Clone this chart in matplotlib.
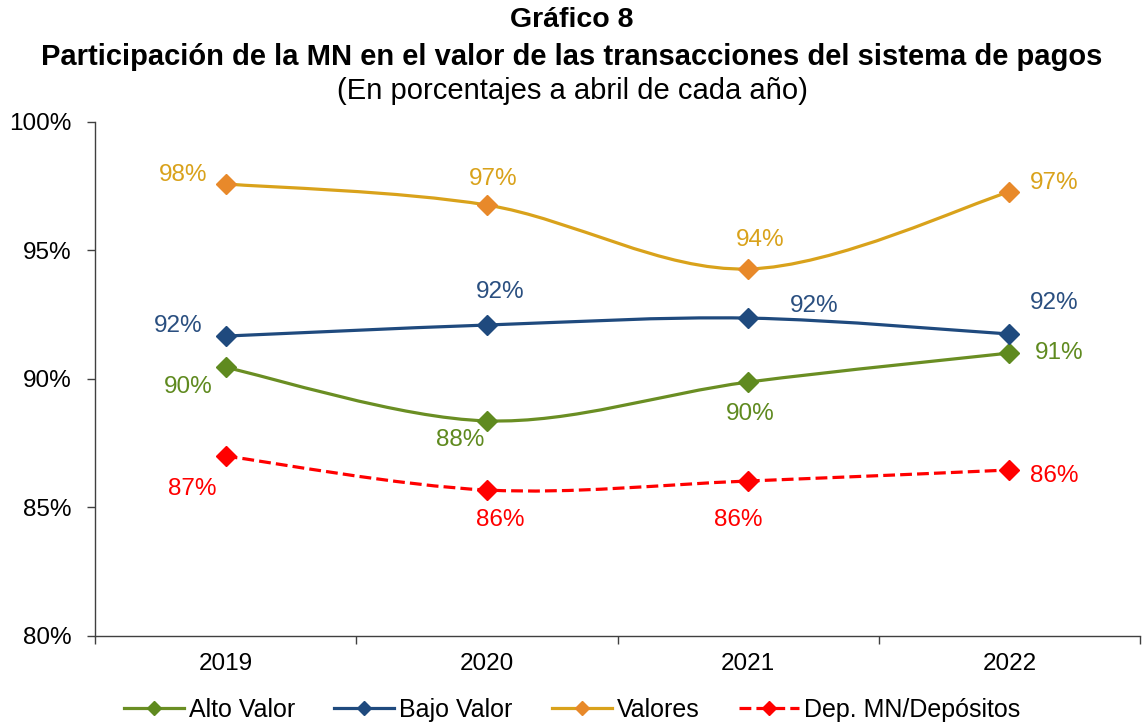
import matplotlib
matplotlib.use("Agg")
import matplotlib.pyplot as plt
from matplotlib.path import Path
from matplotlib.patches import PathPatch
from matplotlib.lines import Line2D

plt.rcParams['font.family'] = ['Liberation Sans', 'DejaVu Sans']

years = ["2019", "2020", "2021", "2022"]
alto_valor = [90.45, 88.37, 89.88, 91.01]
bajo_valor = [91.67, 92.10, 92.37, 91.75]
valores = [97.59, 96.77, 94.28, 97.28]
dep_mn = [87.00, 85.68, 86.03, 86.46]

series = [
    dict(name="Alto Valor", vals=alto_valor, line="#6A8E23", mark="#5F8A1F", txt="#5F8A1F", ls="-",
         offs=[(-37, -20), (-27, -19), (2, -32), (50, 0)]),
    dict(name="Bajo Valor", vals=bajo_valor, line="#1F4A7E", mark="#1F4A7E", txt="#2A4F80", ls="-",
         offs=[(-47, 10), (13, 33), (66, 12), (45, 31)]),
    dict(name="Valores", vals=valores, line="#D9A21B", mark="#E8892A", txt="#D9A21B", ls="-",
         offs=[(-43, 9), (6, 26), (12, 29), (45, 9)]),
    dict(name="Dep. MN/Depósitos", vals=dep_mn, line="#FF0000", mark="#FF0000", txt="#FF0000", ls="--",
         offs=[(-33, -33), (13, -30), (-10, -39), (45, -6)]),
]

fig = plt.figure(figsize=(11.44, 7.24), dpi=100)
ax = fig.add_axes([95/1144, (724-636)/724, (1140-95)/1144, (636-122)/724])

xs = list(range(len(years)))


def smooth_path(x, y):
    pts = list(zip(x, y))
    n = len(pts)
    verts = [pts[0]]
    codes = [Path.MOVETO]
    for i in range(n - 1):
        p0 = pts[i - 1] if i > 0 else pts[i]
        p1 = pts[i]
        p2 = pts[i + 1]
        p3 = pts[i + 2] if i + 2 < n else pts[i + 1]
        c1 = (p1[0] + (p2[0] - p0[0]) / 6, p1[1] + (p2[1] - p0[1]) / 6)
        c2 = (p2[0] - (p3[0] - p1[0]) / 6, p2[1] - (p3[1] - p1[1]) / 6)
        verts += [c1, c2, p2]
        codes += [Path.CURVE4] * 3
    return Path(verts, codes)


handles = []
for s in series:
    patch = PathPatch(smooth_path(xs, s["vals"]), facecolor="none", edgecolor=s["line"],
                      lw=2.3, ls=s["ls"], zorder=2)
    ax.add_patch(patch)
    ax.plot(xs, s["vals"], ls="none", marker="D", ms=10, color=s["mark"], mec=s["mark"], zorder=3)
    for xi, v, off in zip(xs, s["vals"], s["offs"]):
        ax.annotate(f"{v:.0f}%", (xi, v), xytext=off, textcoords="offset pixels",
                    ha="center", va="center", fontsize=17.5, color=s["txt"])
    handles.append(Line2D([], [], color=s["line"], lw=2.3, ls=s["ls"], marker="D", ms=7,
                          mfc=s["mark"], mec=s["mark"], label=s["name"]))

ax.set_xlim(-0.5, len(years) - 0.5)
ax.set_ylim(80, 100)
ax.set_yticks([80, 85, 90, 95, 100])
ax.set_yticklabels([f"{t}%" for t in [80, 85, 90, 95, 100]], fontsize=17.5)
ax.set_xticks(xs)
ax.set_xticklabels(years, fontsize=17.5)
ax.set_xticks([i - 0.5 for i in range(len(years) + 1)], minor=True)
ax.tick_params(axis="x", which="major", length=0, pad=12)
ax.tick_params(axis="x", which="minor", length=6, width=1, color="#404040")
ax.tick_params(axis="y", length=6, width=1, color="#404040", pad=11)
for side in ["top", "right"]:
    ax.spines[side].set_visible(False)
for side in ["left", "bottom"]:
    ax.spines[side].set_color("#404040")
    ax.spines[side].set_linewidth(1)

fig.text(0.5, 1 - 20/724, "Gráfico 8", ha="center", va="center", fontsize=20.5, fontweight="bold")
fig.text(0.5, 1 - 57/724, "Participación de la MN en el valor de las transacciones del sistema de pagos",
         ha="center", va="center", fontsize=21, fontweight="bold")
fig.text(0.5, 1 - 91/724, "(En porcentajes a abril de cada año)", ha="center", va="center", fontsize=21)

fig.legend(handles=handles, loc="center", bbox_to_anchor=(0.5, 1 - 710/724), ncol=4, frameon=False,
           fontsize=18, handlelength=2.4, columnspacing=1.56, handletextpad=0.2, borderpad=0)

fig.savefig("out.png", dpi=100)
